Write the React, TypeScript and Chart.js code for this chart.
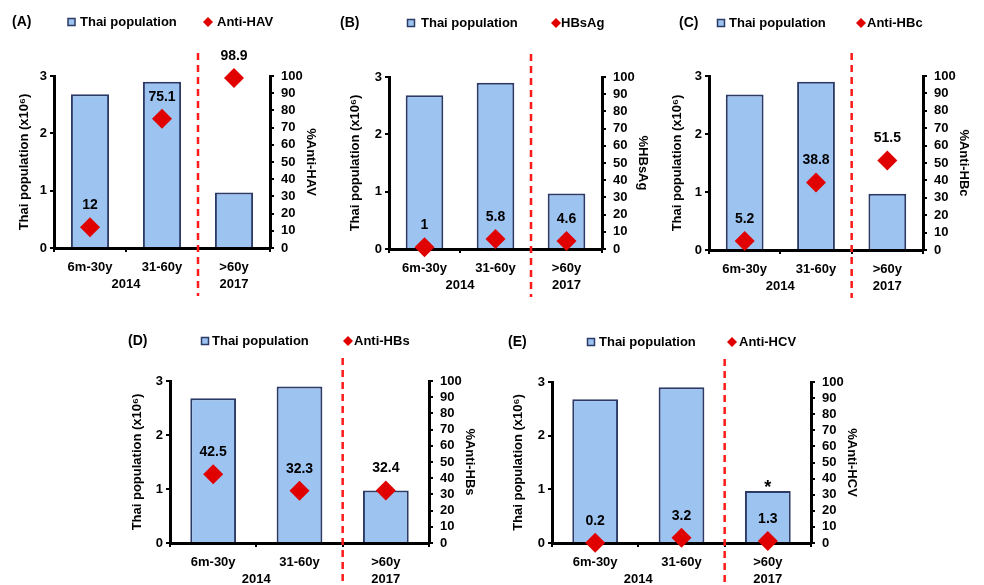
import React, { useEffect, useRef } from "react";
import { Chart, registerables } from "chart.js";

Chart.register(...registerables);

// ---------------- data ----------------
const categories = ["6m-30y", "31-60y", ">60y"];
const years = ["2014", "2014", "2017"];
const population = [2.68, 2.9, 0.97];
const barLabel = "Thai population";
const leftTitle = "Thai population (x10\u2076)";
const panelLabels = ["(A)", "(B)", "(C)", "(D)", "(E)"];
const markerNames = ["Anti-HAV", "HBsAg", "Anti-HBc", "Anti-HBs", "Anti-HCV"];
const rightTitles = ["%Anti-HAV", "%HBsAg", "%Anti-HBc", "%Anti-HBs", "%Anti-HCV"];
const antiHAV = [12, 75.1, 98.9];
const hbsAg = [1, 5.8, 4.6];
const antiHBc = [5.2, 38.8, 51.5];
const antiHBs = [42.5, 32.3, 32.4];
const antiHCV = [0.2, 3.2, 1.3];
const notesNone = ["", "", ""];
const notesE = ["", "", "*"];
const leftMax = 3;
const leftStep = 1;
const rightMax = 100;
const rightStep = 10;

const panelValues = [antiHAV, hbsAg, antiHBc, antiHBs, antiHCV];
const panelNotes = [notesNone, notesNone, notesNone, notesNone, notesE];

// ---------------- layout (page coordinates) ----------------
type Layout = {
  L: number; T: number; R: number; B: number;
  labelX: number; squareX: number; textX: number; diamondX: number; text2X: number; legendY: number;
  leftTitleX: number;
};
const layouts: Layout[] = [
  { L: 54, T: 76, R: 270, B: 248, labelX: 12, squareX: 71.5, textX: 80, diamondX: 208, text2X: 217, legendY: 22, leftTitleX: 24 },
  { L: 389, T: 77, R: 602, B: 249, labelX: 340, squareX: 411, textX: 421, diamondX: 556, text2X: 561, legendY: 23, leftTitleX: 355 },
  { L: 709, T: 76, R: 923, B: 250, labelX: 679, squareX: 721, textX: 729, diamondX: 861, text2X: 867, legendY: 23, leftTitleX: 677 },
  { L: 170, T: 381, R: 429, B: 543, labelX: 128, squareX: 205, textX: 212, diamondX: 348, text2X: 354, legendY: 341, leftTitleX: 137 },
  { L: 552, T: 382, R: 811, B: 543, labelX: 508, squareX: 591, textX: 599, diamondX: 732, text2X: 739, legendY: 342, leftTitleX: 518 },
];
const PAD_L = 54;
const PAD_R = 50;
const PAD_T = 76;
const PAD_B = 48;

const FONT = "'Liberation Sans', Arial, sans-serif";
const BAR_FILL = "#9DC3F1";
const BAR_EDGE = "#2B3A66";
const RED = "#E00000";

Chart.defaults.font.family = FONT;
Chart.defaults.color = "#000";

function makeDecor(idx: number, lay: Layout, notes: string[]) {
  return {
    id: "decor" + idx,
    afterDraw(chart: any) {
      const ctx = chart.ctx as CanvasRenderingContext2D;
      const xs = chart.scales.x;
      const area = chart.chartArea;
      const offX = lay.L - PAD_L;
      const offY = lay.T - PAD_T;
      ctx.save();
      // dashed separators between year groups
      ctx.strokeStyle = "#FF1A1A";
      ctx.lineWidth = 2.5;
      ctx.setLineDash([7, 5]);
      for (let i = 1; i < years.length; i++) {
        if (years[i] !== years[i - 1]) {
          const x = (xs.getPixelForValue(i - 1) + xs.getPixelForValue(i)) / 2;
          ctx.beginPath();
          ctx.moveTo(x, area.top - 23);
          ctx.lineTo(x, chart.height + 2);
          ctx.stroke();
        }
      }
      ctx.setLineDash([]);
      // year labels
      ctx.fillStyle = "#000";
      ctx.font = "bold 13px " + FONT;
      ctx.textAlign = "center";
      ctx.textBaseline = "middle";
      let start = 0;
      for (let i = 1; i <= years.length; i++) {
        if (i === years.length || years[i] !== years[start]) {
          const x = (xs.getPixelForValue(start) + xs.getPixelForValue(i - 1)) / 2;
          ctx.fillText(years[start], x, area.bottom + 36);
          start = i;
        }
      }
      // data labels above markers
      const meta = chart.getDatasetMeta(1);
      const vals = chart.data.datasets[1].data;
      ctx.font = "bold 14px " + FONT;
      meta.data.forEach((pt: any, i: number) => {
        ctx.fillText(String(vals[i]), pt.x, pt.y - 22);
      });
      // notes above bars
      const bmeta = chart.getDatasetMeta(0);
      ctx.font = "bold 18px " + FONT;
      ctx.textBaseline = "alphabetic";
      bmeta.data.forEach((bar: any, i: number) => {
        if (notes[i]) ctx.fillText(notes[i], bar.x, bar.y + 2);
      });
      // legend + panel label
      const ly = lay.legendY - offY;
      ctx.textAlign = "left";
      ctx.textBaseline = "middle";
      ctx.font = "bold 14px " + FONT;
      ctx.fillText(panelLabels[idx], lay.labelX - offX, ly);
      ctx.font = "bold 13px " + FONT;
      const sx = lay.squareX - offX;
      ctx.fillStyle = BAR_FILL;
      ctx.fillRect(sx - 3.5, ly - 3.5, 7, 7);
      ctx.strokeStyle = BAR_EDGE;
      ctx.lineWidth = 1.5;
      ctx.strokeRect(sx - 3.5, ly - 3.5, 7, 7);
      ctx.fillStyle = "#000";
      ctx.fillText(chart.data.datasets[0].label, lay.textX - offX, ly + 0.5);
      const dx = lay.diamondX - offX;
      ctx.fillStyle = RED;
      ctx.beginPath();
      ctx.moveTo(dx, ly - 5);
      ctx.lineTo(dx + 5, ly);
      ctx.lineTo(dx, ly + 5);
      ctx.lineTo(dx - 5, ly);
      ctx.closePath();
      ctx.fill();
      ctx.fillStyle = "#000";
      ctx.fillText(chart.data.datasets[1].label, lay.text2X - offX, ly + 0.5);
      ctx.restore();
    },
  };
}

function Panel({ idx }: { idx: number }) {
  const ref = useRef<HTMLCanvasElement>(null);
  const lay = layouts[idx];
  const w = lay.R - lay.L + PAD_L + PAD_R;
  const h = lay.B - lay.T + PAD_T + PAD_B;
  useEffect(() => {
    const tickFont = { size: 13, weight: "bold" as const, family: FONT };
    const chart = new Chart(ref.current as HTMLCanvasElement, {
      type: "bar",
      data: {
        labels: categories,
        datasets: [
          {
            type: "bar",
            label: barLabel,
            data: population,
            yAxisID: "y",
            backgroundColor: BAR_FILL,
            borderColor: BAR_EDGE,
            borderWidth: 2,
            barPercentage: 0.53,
            categoryPercentage: 1,
            order: 2,
          } as any,
          {
            type: "line",
            label: markerNames[idx],
            data: panelValues[idx],
            yAxisID: "y1",
            showLine: false,
            pointStyle: "rectRot",
            pointRadius: 10,
            pointHoverRadius: 10,
            pointBackgroundColor: RED,
            pointBorderColor: RED,
            pointBorderWidth: 0,
            backgroundColor: RED,
            borderColor: RED,
            clip: false,
            order: 1,
          } as any,
        ],
      },
      options: {
        animation: false,
        responsive: false,
        events: [],
        layout: { padding: { top: PAD_T, left: 0, right: 0, bottom: 0 } },
        plugins: {
          legend: { display: false },
          tooltip: { enabled: false },
          title: { display: false },
        },
        scales: {
          x: {
            type: "category",
            offset: true,
            grid: { display: true, drawOnChartArea: false, drawTicks: true, tickLength: 4, offset: true, color: "#000", lineWidth: 2 },
            border: { display: true, color: "#000", width: 3 },
            ticks: { color: "#000", font: tickFont, padding: 8, maxRotation: 0, autoSkip: false },
            afterFit: (s: any) => { s.height = PAD_B; },
          },
          y: {
            position: "left",
            min: 0,
            max: leftMax,
            ticks: { stepSize: leftStep, color: "#000", font: tickFont, padding: 3, autoSkip: false },
            grid: { drawOnChartArea: false, drawTicks: true, tickLength: 4, color: "#000", lineWidth: 2 },
            border: { display: true, color: "#000", width: 3 },
            title: {
              display: true,
              text: leftTitle,
              color: "#000",
              font: tickFont,
              padding: { top: lay.leftTitleX - (lay.L - PAD_L) - 7.8, bottom: 0 },
            },
            afterFit: (s: any) => { s.width = PAD_L; },
          },
          y1: {
            position: "right",
            min: 0,
            max: rightMax,
            ticks: { stepSize: rightStep, color: "#000", font: tickFont, padding: 7, autoSkip: false },
            grid: { drawOnChartArea: false, drawTicks: true, tickLength: 4, color: "#000", lineWidth: 2 },
            border: { display: true, color: "#000", width: 3 },
            title: { display: true, text: rightTitles[idx], color: "#000", font: tickFont, padding: { top: 2, bottom: 0 } },
            afterFit: (s: any) => { s.width = PAD_R; },
          },
        },
      } as any,
      plugins: [makeDecor(idx, lay, panelNotes[idx])],
    });
    return () => chart.destroy();
  }, []);
  return (
    <canvas
      ref={ref}
      width={w}
      height={h}
      style={{ position: "absolute", left: lay.L - PAD_L, top: lay.T - PAD_T, width: w, height: h }}
    />
  );
}

export default function App() {
  return (
    <div
      style={{
        position: "absolute",
        left: 0,
        top: 0,
        width: 984,
        height: 585,
        overflow: "hidden",
        background: "#fff",
      }}
    >
      {layouts.map((_, i) => (
        <Panel key={i} idx={i} />
      ))}
    </div>
  );
}
